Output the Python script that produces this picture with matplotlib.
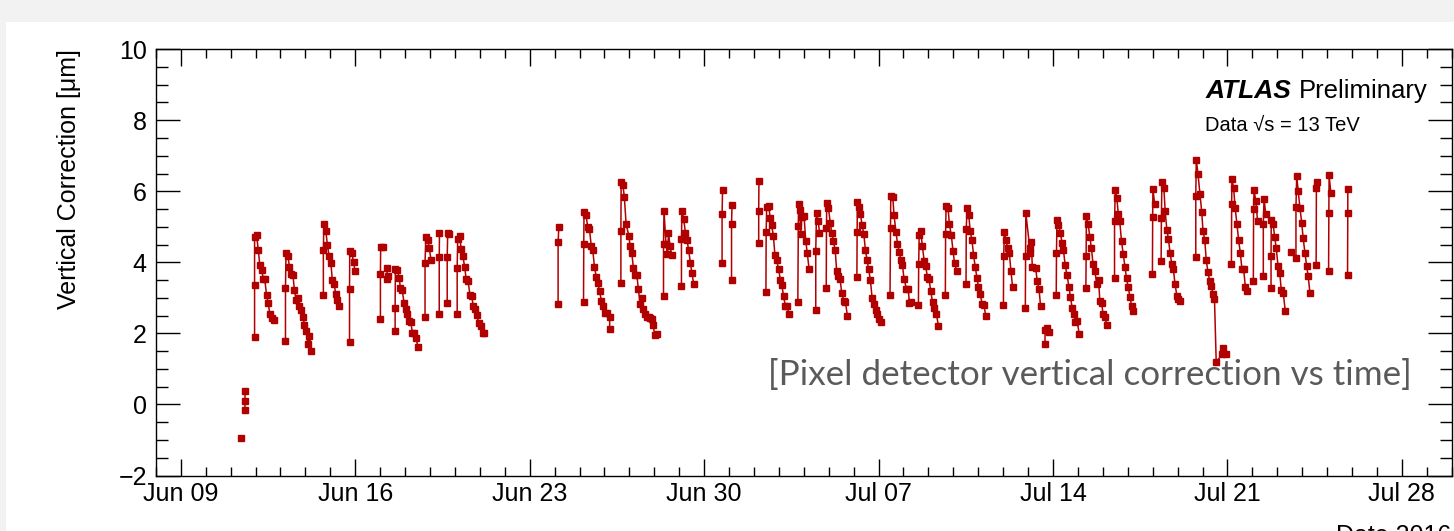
import numpy as np
import pandas as pd
import matplotlib
matplotlib.use('Agg')
import matplotlib.pyplot as plt
import matplotlib.dates as mdates
from matplotlib.ticker import MultipleLocator
from matplotlib.patches import Rectangle

# Tijd in dagen na 2016-06-09 00:00, een rij per fill
t_fill = [
    [2.41],
    [2.59, 2.59, 2.59],
    [2.96, 2.96, 2.96, 3.04, 3.11, 3.17, 3.24, 3.31, 3.37, 3.44, 3.51, 3.57, 3.64, 3.72],
    [4.20, 4.20, 4.22, 4.30, 4.36, 4.43, 4.50, 4.56, 4.63, 4.70, 4.76, 4.83, 4.90, 4.96, 5.03, 5.10, 5.16, 5.24],
    [5.72, 5.72, 5.74, 5.82, 5.88, 5.95, 6.02, 6.08, 6.15, 6.22, 6.28, 6.36],
    [6.77, 6.77, 6.78, 6.86, 6.93, 6.99],
    [8.01, 8.01, 8.02, 8.12],
    [8.28, 8.28, 8.32],
    [8.60, 8.60, 8.61, 8.69, 8.76, 8.81, 8.88, 8.96, 9.03, 9.09, 9.16, 9.23, 9.29, 9.36, 9.44, 9.51],
    [9.80, 9.80, 9.83, 9.91, 9.97, 10.04],
    [10.37, 10.37, 10.38],
    [10.69, 10.69, 10.71, 10.77],
    [11.09, 11.09, 11.11, 11.19, 11.25, 11.32, 11.39, 11.45, 11.53, 11.60, 11.67, 11.74, 11.82, 11.88, 11.96, 12.03, 12.11, 12.16],
    [15.14, 15.14, 15.17],
    [16.16, 16.17, 16.18, 16.26, 16.33, 16.40, 16.47, 16.53, 16.60, 16.67, 16.73, 16.81, 16.88, 16.94, 17.01, 17.09, 17.21, 17.21],
    [17.66, 17.66, 17.67, 17.74, 17.80, 17.87, 17.98, 18.03, 18.10, 18.16, 18.23, 18.30, 18.36, 18.43, 18.50, 18.56, 18.63, 18.70, 18.77, 18.83, 18.90, 18.95, 19.02, 19.09],
    [19.37, 19.37, 19.39, 19.47, 19.53, 19.57, 19.63, 19.70],
    [20.09, 20.09, 20.11, 20.18, 20.25, 20.31, 20.38, 20.45, 20.51, 20.58],
    [21.72, 21.72, 21.74],
    [22.10, 22.10, 22.12],
    [23.19, 23.19, 23.20],
    [23.48, 23.49, 23.51, 23.59, 23.65, 23.71, 23.78, 23.84, 23.91, 23.99, 24.06, 24.12, 24.19, 24.26, 24.34, 24.40],
    [24.76, 24.78, 24.79, 24.85, 24.87, 24.93, 25.01, 25.08, 25.14, 25.21],
    [25.48, 25.48, 25.51, 25.58, 25.63],
    [25.90, 25.91, 25.92, 25.99, 26.06, 26.12, 26.19, 26.26, 26.32, 26.39, 26.46, 26.52, 26.61, 26.67, 26.75],
    [27.13, 27.14, 27.15, 27.22, 27.27, 27.34, 27.41, 27.47, 27.54, 27.60, 27.67, 27.74, 27.81, 27.88, 27.94, 28.01, 28.08],
    [28.46, 28.48, 28.49, 28.57, 28.62, 28.70, 28.76, 28.83, 28.89, 28.96, 29.02, 29.12, 29.19, 29.24, 29.32],
    [29.60, 29.61, 29.63, 29.69, 29.76, 29.83, 29.89, 29.96, 30.03, 30.09, 30.17, 30.24, 30.32, 30.40],
    [30.68, 30.69, 30.71, 30.79, 30.84, 30.92, 30.99, 31.05, 31.13],
    [31.51, 31.52, 31.55, 31.62, 31.68, 31.75, 31.81, 31.88, 31.95, 32.01, 32.08, 32.15, 32.23, 32.30],
    [33.01, 33.02, 33.05, 33.11, 33.18, 33.25, 33.31, 33.38],
    [33.89, 33.90, 33.91, 34.09, 34.09, 34.13, 34.17, 34.30, 34.37, 34.44, 34.50],
    [34.68, 34.68, 34.76, 34.84],
    [35.13, 35.14, 35.16, 35.22, 35.30, 35.36, 35.42, 35.49, 35.56, 35.64, 35.70, 35.77, 35.84, 35.90, 35.97, 36.05],
    [36.32, 36.33, 36.34, 36.41, 36.48, 36.54, 36.61, 36.68, 36.75, 36.83, 36.88, 36.95, 37.01, 37.08, 37.16],
    [37.47, 37.47, 37.50, 37.56, 37.62, 37.68, 37.75, 37.82, 37.89, 37.95, 38.02, 38.09, 38.16, 38.22],
    [38.99, 39.00, 39.01, 39.08],
    [39.34, 39.35, 39.37, 39.45, 39.50, 39.57, 39.63, 39.70, 39.77, 39.83, 39.90, 39.97, 40.03, 40.11],
    [40.73, 40.73, 40.75, 40.82, 40.90, 40.97, 41.02, 41.09, 41.15, 41.22, 41.29, 41.35, 41.42, 41.48, 41.55, 41.78, 41.83, 41.93],
    [42.16, 42.17, 42.18, 42.25, 42.31, 42.38, 42.45, 42.52, 42.58, 42.65, 42.72, 42.79],
    [43.04, 43.05, 43.07, 43.14, 43.21],
    [43.44, 43.44, 43.47, 43.54],
    [43.75, 43.75, 43.76, 43.83, 43.90, 43.96, 44.03, 44.10, 44.16, 44.24, 44.32],
    [44.55],
    [44.75, 44.75, 44.78, 44.84, 44.91, 44.98, 45.04, 45.11, 45.18, 45.24, 45.31],
    [45.56, 45.57, 45.59],
    [46.06, 46.07, 46.08, 46.15],
    [46.82, 46.83, 46.83],
]

# Verticale correctie [um], zelfde indeling
v_fill = [
    [-0.95],
    [0.37, 0.10, -0.17],
    [1.90, 3.37, 4.71, 4.77, 4.34, 3.92, 3.79, 3.54, 3.52, 3.08, 2.85, 2.54, 2.44, 2.39],
    [1.80, 3.27, 4.25, 4.17, 3.87, 3.68, 3.63, 3.21, 2.95, 3.01, 2.76, 2.65, 2.46, 2.25, 2.06, 1.71, 1.94, 1.50],
    [3.07, 4.35, 5.09, 4.88, 4.50, 4.18, 3.98, 3.51, 3.40, 3.10, 2.95, 2.76],
    [1.75, 3.24, 4.32, 4.27, 4.01, 3.77],
    [2.41, 3.68, 4.44, 4.44],
    [3.85, 3.53, 3.61],
    [2.06, 2.71, 3.80, 3.79, 3.57, 3.29, 3.23, 2.86, 2.70, 2.55, 2.34, 2.32, 2.02, 2.01, 1.88, 1.63],
    [2.45, 3.98, 4.70, 4.64, 4.39, 4.08],
    [2.55, 4.16, 4.82],
    [2.85, 4.16, 4.82, 4.80],
    [2.56, 3.85, 4.65, 4.75, 4.37, 4.18, 3.87, 3.54, 3.47, 3.09, 3.05, 2.77, 2.68, 2.51, 2.28, 2.21, 2.02, 2.00],
    [2.84, 4.56, 4.99],
    [2.88, 4.53, 5.41, 5.34, 4.99, 4.95, 4.45, 4.35, 3.87, 3.60, 3.42, 3.18, 2.91, 2.77, 2.57, 2.58, 2.47, 2.11],
    [3.42, 4.87, 6.25, 6.18, 5.83, 5.07, 4.75, 4.46, 4.25, 3.85, 3.65, 3.65, 3.25, 2.84, 3.01, 2.70, 2.55, 2.46, 2.45, 2.44, 2.40, 2.23, 1.96, 1.99],
    [3.05, 4.51, 5.45, 4.51, 4.23, 4.84, 4.45, 4.22],
    [3.34, 4.67, 5.45, 5.22, 4.83, 4.64, 4.34, 3.98, 3.70, 3.40],
    [3.97, 5.35, 6.03],
    [3.49, 5.09, 5.61],
    [4.55, 5.44, 6.29],
    [3.16, 4.85, 5.56, 5.60, 5.25, 5.04, 4.75, 4.21, 4.06, 3.80, 3.51, 3.35, 3.05, 2.77, 2.76, 2.56],
    [2.88, 5.03, 5.63, 5.46, 4.79, 5.28, 5.30, 4.59, 4.26, 3.82],
    [2.67, 4.33, 5.40, 5.16, 4.83],
    [3.28, 4.97, 5.66, 5.53, 5.12, 4.84, 4.59, 4.34, 3.75, 3.61, 3.52, 3.14, 2.91, 2.88, 2.50],
    [3.59, 4.85, 5.70, 5.56, 5.37, 5.04, 4.79, 4.36, 4.06, 3.82, 3.51, 3.01, 2.84, 2.65, 2.54, 2.41, 2.31],
    [3.09, 4.98, 5.86, 5.84, 5.34, 4.85, 4.53, 4.29, 4.08, 3.92, 3.54, 3.25, 3.25, 2.85, 2.88],
    [2.81, 3.94, 4.76, 4.88, 4.45, 4.04, 3.90, 3.59, 3.53, 3.19, 2.88, 2.72, 2.55, 2.22],
    [3.08, 4.81, 5.60, 5.52, 5.09, 4.76, 4.31, 3.98, 3.77],
    [3.40, 4.95, 5.52, 5.32, 4.87, 4.62, 4.22, 3.87, 3.56, 3.30, 3.12, 2.84, 2.79, 2.50],
    [2.79, 4.19, 4.85, 4.64, 4.39, 4.25, 3.77, 3.30],
    [2.72, 4.19, 5.39, 4.26, 4.40, 4.57, 3.87, 3.85, 3.47, 3.25, 2.78],
    [1.71, 2.10, 2.16, 2.04],
    [3.07, 4.26, 5.20, 5.04, 4.84, 4.54, 4.34, 3.92, 3.65, 3.32, 3.02, 2.72, 2.54, 2.32, 2.35, 1.99],
    [3.29, 4.17, 5.30, 5.07, 4.71, 4.41, 3.94, 3.77, 3.40, 3.49, 2.91, 2.86, 2.54, 2.46, 2.25],
    [3.56, 5.15, 6.05, 5.82, 5.37, 5.15, 4.59, 4.23, 3.87, 3.55, 3.30, 3.02, 2.76, 2.62],
    [3.66, 5.28, 6.06, 5.65],
    [4.03, 5.25, 6.25, 6.10, 5.45, 4.92, 4.67, 4.26, 3.94, 3.81, 3.38, 3.06, 2.98, 2.92],
    [4.15, 5.88, 6.89, 6.48, 5.91, 5.41, 4.88, 4.64, 4.06, 3.72, 3.47, 3.34, 3.11, 2.98, 1.19, 1.41, 1.59, 1.43],
    [3.94, 5.65, 6.34, 6.08, 5.53, 5.09, 4.62, 4.25, 3.82, 3.82, 3.30, 3.19],
    [3.47, 5.49, 6.03, 5.72, 5.16],
    [3.61, 5.09, 5.79, 5.35],
    [3.28, 4.17, 5.20, 5.09, 4.70, 4.39, 3.90, 3.70, 3.23, 3.15, 2.63],
    [4.30],
    [4.13, 5.56, 6.42, 6.01, 5.54, 5.12, 4.68, 4.27, 3.90, 3.61, 3.15],
    [3.92, 6.08, 6.26],
    [3.77, 5.40, 6.45, 5.96],
    [3.63, 5.39, 6.06],
]

start_day = pd.Timestamp('2016-06-09')
rood = '#b00000'

plt.rcParams['font.family'] = ['Liberation Sans', 'DejaVu Sans']

W, H = 1454, 531
fig = plt.figure(figsize=(W / 100, H / 100), dpi=100, facecolor='#f2f2f2')
# wit canvas, grijze rand boven en links
fig.patches.append(Rectangle((6 / W, 0), 1, 1 - 22 / H, transform=fig.transFigure,
                             facecolor='white', edgecolor='none', zorder=-10))

ax = fig.add_axes([155.9 / W, 1 - 475.5 / H, (1451.7 - 155.9) / W, (475.5 - 49.2) / H])
ax.set_facecolor('white')

for tt, vv in zip(t_fill, v_fill):
    assert len(tt) == len(vv)
    x = (start_day + pd.to_timedelta(np.array(tt), unit='D')).to_numpy()
    ax.plot(x, vv, '-s', color=rood, lw=1.1, ms=3.8, mec=rood, mfc=rood)

ax.set_xlim(pd.Timestamp('2016-06-08'), pd.Timestamp('2016-07-30'))
ax.set_ylim(-2, 10)
ax.xaxis.set_major_locator(mdates.WeekdayLocator(byweekday=mdates.TH))
ax.xaxis.set_minor_locator(mdates.DayLocator())
ax.xaxis.set_major_formatter(mdates.DateFormatter('%b %d'))
ax.yaxis.set_major_locator(MultipleLocator(2))
ax.yaxis.set_minor_locator(MultipleLocator(0.5))

ax.tick_params(which='both', direction='in', top=True, right=True, width=1.0)
ax.tick_params(axis='x', which='major', length=12.5, labelsize=18, pad=5)
ax.tick_params(axis='x', which='minor', length=6.5)
ax.tick_params(axis='y', which='major', length=17, labelsize=18, pad=6.5)
ax.tick_params(axis='y', which='minor', length=8.5)
for s in ax.spines.values():
    s.set_linewidth(1.0)

fig.text(69 / W, 1 - 179 / H, 'Vertical Correction [μm]', rotation=90,
         ha='center', va='center', fontsize=18)
fig.text(1451.7 / W, 1 - 524 / H, 'Date 2016', ha='right', va='top', fontsize=18)

fig.text(1206 / W, 1 - 98.3 / H, 'ATLAS', fontsize=19, fontweight='bold',
         fontstyle='italic', va='baseline')
fig.text(1299.3 / W, 1 - 98.3 / H, 'Preliminary', fontsize=18.5, va='baseline')
fig.text(1205 / W, 1 - 130.7 / H, 'Data √s = 13 TeV', fontsize=14.5, va='baseline')

# grijze overlay-tekst, breedte passend gemaakt op ~642 px
overlay = fig.text(768 / W, 1 - 385 / H, '[Pixel detector vertical correction vs time]',
                   fontsize=24, color='#5a5a5a', family=['Lato', 'DejaVu Sans'],
                   va='baseline')
fig.canvas.draw()
bb = overlay.get_window_extent()
overlay.set_fontsize(24 * 642 / bb.width)

fig.savefig('out.png', dpi=100, facecolor=fig.get_facecolor())
